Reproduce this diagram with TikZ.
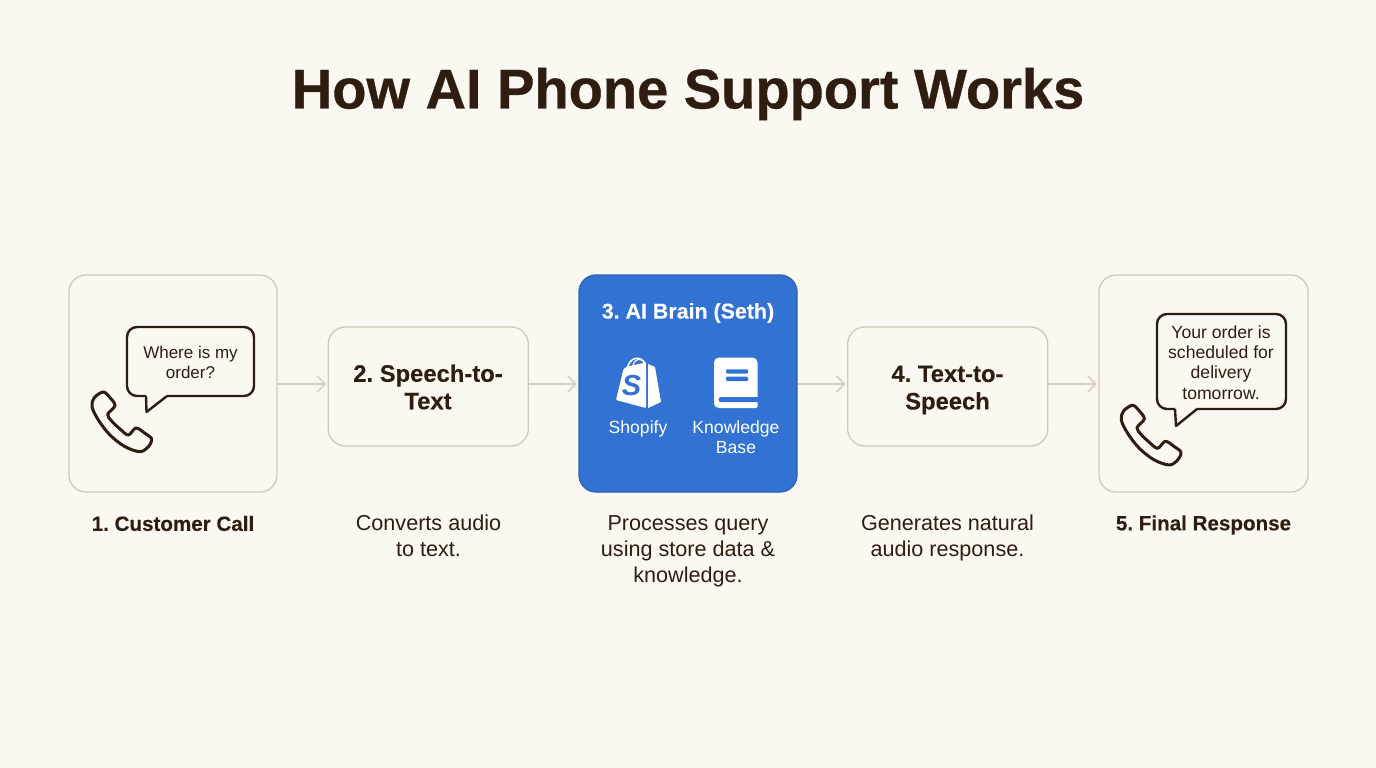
\documentclass[tikz,border=0pt]{standalone}
\usepackage{fontspec}
\setmainfont{Liberation Sans}[BoldFeatures={FakeBold=0.2}]
\newfontfamily\titlef{Liberation Sans}[BoldFeatures={FakeBold=0.6}]
\frenchspacing
\usetikzlibrary{arrows.meta}
\definecolor{bgc}{HTML}{FBF8F1}
\definecolor{inkc}{HTML}{2E1D10}
\definecolor{edgec}{HTML}{D3C8B8}
\definecolor{arrc}{HTML}{DACDBD}
\definecolor{bluec}{HTML}{3272D2}
\definecolor{blueedge}{HTML}{2A62B5}
\tikzset{
 card/.style={draw=edgec,line width=1.3pt,rounded corners=17pt,inner sep=0pt},
 flow/.style={draw=arrc,line width=1.5pt,-{Straight Barb[length=8pt,width=16pt,line width=1.5pt]},shorten >=1.5pt},
 bubble/.style={draw=inkc,line width=2.4pt,rounded corners=10pt,fill=bgc,line join=round},
 phoneline/.style={draw=inkc,line width=3pt,line join=round},
 headtext/.style={font=\fontsize{23.8}{27.5}\selectfont\bfseries,text=inkc,align=center},
 captext/.style={font=\fontsize{21.6}{26}\selectfont,text=inkc,align=center},
 captitle/.style={font=\fontsize{20.6}{26}\selectfont\bfseries,text=inkc,align=center},
 bubtext/.style={font=\fontsize{17}{20}\selectfont,text=inkc,align=center},
 bubtextb/.style={font=\fontsize{17.6}{20.2}\selectfont,text=inkc,align=center},
 whitetext/.style={font=\fontsize{17.6}{20}\selectfont,text=white,align=center},
 phone/.pic={
  \draw[phoneline] plot[smooth cycle,tension=0.55] coordinates{(130,381)(103,398)(96,425)(115,465)(150,510)(195,545)(240,560)(265,545)(275,522)(255,505)(228,489)(205,510)(180,492)(155,468)(143,448)(165,422)(150,398)};
 }
}
\begin{document}
\begin{tikzpicture}[x=1pt,y=-1pt]
\fill[bgc] (0,0) rectangle (1376,768);
\useasboundingbox (0,0) rectangle (1376,768);
\node[font=\titlef\fontsize{56}{60}\selectfont\bfseries,text=inkc] (title) at (688,94) {How AI Phone Support Works};
\node[card,minimum width=208pt,minimum height=217pt] (c1) at (173,383.5) {};
\node[card,minimum width=200pt,minimum height=119pt] (c2) at (428.3,386.5) {};
\node[headtext] (c2t) at (428,387) {2. Speech-to-\\Text};
\node[card,minimum width=218pt,minimum height=217pt,draw=blueedge,fill=bluec] (c3) at (688,383.5) {};
\node[card,minimum width=200pt,minimum height=119pt] (c4) at (947.7,386.5) {};
\node[headtext] (c4t) at (947.5,390) {4. Text-to-\\Speech};
\node[card,minimum width=209pt,minimum height=217pt] (c5) at (1203.5,383.5) {};
\coordinate (a12) at (c1.east |- 0,384); \coordinate (b12) at (c2.west |- 0,384);
\coordinate (a23) at (c2.east |- 0,384); \coordinate (b23) at (c3.west |- 0,384);
\coordinate (a34) at (c3.east |- 0,384); \coordinate (b34) at (c4.west |- 0,384);
\coordinate (a45) at (c4.east |- 0,384); \coordinate (b45) at (c5.west |- 0,384);
\draw[flow] (a12)--(b12); \draw[flow] (a23)--(b23); \draw[flow] (a34)--(b34); \draw[flow] (a45)--(b45);
% bubble 1
\draw[bubble] (146,396) -- (127,396) -- (127,327) -- (254,327) -- (254,396) -- (167,396);
\draw[draw=inkc,line width=2.4pt,line join=round] (146,396) -- (146.5,412) -- (167,396);
\node[bubtext] (q) at (190.5,362) {Where is my\\order?};
\pic[scale=1/3] at (60,265) {phone};
% bubble 2
\draw[bubble] (1175,409) -- (1157,409) -- (1157,314) -- (1286,314) -- (1286,409) -- (1197,409);
\draw[draw=inkc,line width=2.4pt,line join=round] (1175,409) -- (1176,426) -- (1197,409);
\node[bubtextb] (r) at (1221,362.5) {Your order is\\scheduled for\\delivery\\tomorrow.};
\pic[scale=1/3] at (1089.3,278.3) {phone};
% AI card
\node[whitetext,font=\fontsize{21.4}{26}\selectfont\bfseries] (t3) at (688,313) {3. AI Brain (Seth)};
% bag
\fill[white,rounded corners=1pt] (616,400) -- (623.5,369) -- (627,366.5) -- (646,362.5) -- (646,408) -- cycle;
\fill[white,rounded corners=.5pt] (648,364) -- (655,367) -- (661,402) -- (648,408) -- cycle;
\draw[white,line width=1.5pt] (627.5,368) .. controls (629,358) and (640,354) .. (645.5,364);
\draw[white,line width=1.2pt] (633,366) .. controls (634,359) and (641,356) .. (645.5,364);
\node[text=bluec,font=\fontsize{29}{29}\selectfont\bfseries\itshape] (s) at (631.5,386) {S};
% book
\fill[white,rounded corners=5pt] (714,404) -- (714,357.5) -- (757.5,357.5) [rounded corners=1.5pt] -- (757.5,408) -- (722,408) [rounded corners=5pt] -- (714,408) -- cycle;
\fill[bluec,rounded corners=2.4pt] (718.5,397) rectangle (764,402);
\fill[bluec] (758,396) rectangle (764,409);
\fill[bluec,rounded corners=1pt] (726,369.3) rectangle (748,373.5);
\fill[bluec,rounded corners=1pt] (726,376.7) rectangle (748,381);
\node[whitetext] (sh) at (638,429) {Shopify};
\node[whitetext] (kb) at (736,437) {Knowledge\\Base};
% captions
\node[captitle] (l1) at (173,523.5) {1. Customer Call};
\node[captext] (l2) at (428.5,536) {Converts audio\\to text.};
\node[captext] (l3) at (688,551) {Processes query\\using store data \&\\knowledge.};
\node[captext] (l4) at (947.5,538) {Generates natural\\audio response.};
\node[captitle] (l5) at (1203.5,525) {5. Final Response};
\end{tikzpicture}
\end{document}
